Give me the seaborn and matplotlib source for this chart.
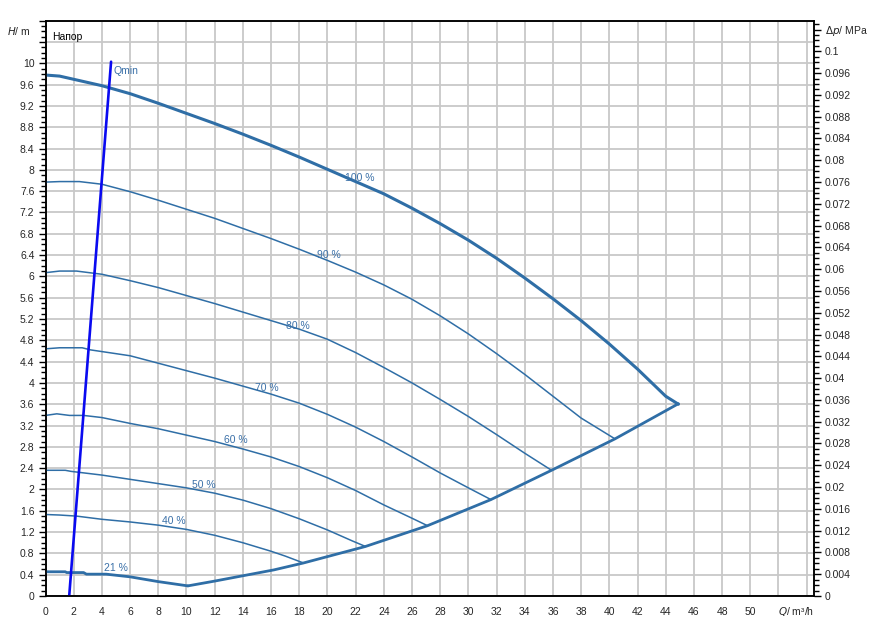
import numpy as np
import pandas as pd
import matplotlib
matplotlib.use("Agg")
import matplotlib.pyplot as plt
import seaborn as sns
from matplotlib.ticker import MultipleLocator, FuncFormatter

# pump curves, Q in m3/h, H in m
q_100 = [0, 1, 4, 6, 8, 10, 12, 14, 16, 18, 20, 22, 24, 26, 28, 30, 32, 34, 36, 38, 40, 42, 44, 44.9]
h_100 = [9.78, 9.76, 9.58, 9.43, 9.25, 9.06, 8.87, 8.67, 8.46, 8.24, 8.01, 7.78, 7.55, 7.28, 6.99, 6.68,
         6.34, 5.97, 5.58, 5.17, 4.73, 4.26, 3.75, 3.6]
q_90 = [0, 1, 2.4, 4, 6, 8, 10, 12, 14, 16, 18, 20, 22, 24, 26, 28, 30, 32, 34, 36, 38, 40.4]
h_90 = [7.77, 7.78, 7.78, 7.73, 7.59, 7.43, 7.26, 7.09, 6.90, 6.71, 6.51, 6.30, 6.08, 5.84, 5.57, 5.26,
        4.92, 4.55, 4.16, 3.75, 3.34, 2.95]
q_80 = [0, 1, 2.2, 4, 6, 8, 10, 12, 14, 16, 18, 20, 22, 24, 26, 28, 30, 32, 34, 35.9]
h_80 = [6.07, 6.1, 6.1, 6.04, 5.92, 5.79, 5.64, 5.49, 5.33, 5.17, 5.01, 4.82, 4.57, 4.29, 4.00, 3.69,
        3.37, 3.03, 2.68, 2.36]
q_70 = [0, 1, 2.6, 3.2, 6, 8, 10, 12, 14, 16, 18, 20, 22, 24, 26, 28, 30, 31.6]
h_70 = [4.64, 4.66, 4.66, 4.62, 4.51, 4.37, 4.23, 4.09, 3.94, 3.79, 3.62, 3.41, 3.17, 2.90, 2.61, 2.31,
        2.03, 1.81]
q_60 = [0, 0.8, 1.7, 2.7, 4, 6, 8, 10, 12, 14, 16, 18, 20, 22, 24, 26, 27.1]
h_60 = [3.39, 3.42, 3.39, 3.39, 3.35, 3.24, 3.14, 3.02, 2.90, 2.76, 2.61, 2.43, 2.22, 1.98, 1.71, 1.46, 1.32]
q_50 = [0, 1.4, 1.8, 4, 6, 8, 10, 12, 14, 16, 18, 20, 21.8, 22.7]
h_50 = [2.36, 2.36, 2.34, 2.27, 2.19, 2.11, 2.03, 1.93, 1.80, 1.64, 1.45, 1.24, 1.03, 0.93]
q_40 = [0, 1, 2.2, 4, 6, 8, 10, 12, 14, 15, 16, 17, 18.3]
h_40 = [1.53, 1.52, 1.50, 1.44, 1.39, 1.33, 1.25, 1.14, 1.0, 0.92, 0.84, 0.75, 0.62]
q_21 = [0, 1.4, 1.5, 2.7, 2.9, 4.3, 6, 8, 10.1]
h_21 = [0.455, 0.455, 0.44, 0.44, 0.41, 0.41, 0.36, 0.27, 0.19]
q_max = [10.1, 12, 14, 16.2, 18.3, 22.7, 27.1, 31.6, 35.9, 40.4, 44.9]
h_max = [0.19, 0.28, 0.38, 0.49, 0.62, 0.93, 1.32, 1.81, 2.36, 2.95, 3.61]
q_min = [1.68, 4.65]
h_min = [0, 10.03]

labels = ["100 %", "90 %", "80 %", "70 %", "60 %", "50 %", "40 %", "21 %"]
label_q = [22.3, 20.1, 17.9, 15.7, 13.5, 11.2, 9.1, 5.0]
label_h = [7.85, 6.40, 5.07, 3.90, 2.92, 2.08, 1.40, 0.52]

h_to_mpa = 0.00978
x_max, y_max = 54.5, 10.8

sns.set_style("white")
plt.rcParams['font.family'] = ['Liberation Sans', 'DejaVu Sans']

fig = plt.figure(figsize=(8.84, 6.41), dpi=100)
ax = fig.add_axes([0.0515, 0.0702, 0.9205 - 0.0515, 0.9677 - 0.0702])

blue = "#2f6ea6"
curves = [(q_100, h_100, 2.2), (q_90, h_90, 1.1), (q_80, h_80, 1.1), (q_70, h_70, 1.1),
          (q_60, h_60, 1.1), (q_50, h_50, 1.1), (q_40, h_40, 1.1), (q_21, h_21, 2.0),
          (q_max, h_max, 2.0)]
for q, h, lw in curves:
    df = pd.DataFrame({"Q": q, "H": h})
    sns.lineplot(data=df, x="Q", y="H", ax=ax, color=blue, linewidth=lw,
                 estimator=None, sort=False, zorder=3)

sns.lineplot(x=q_min, y=h_min, ax=ax, color="#0a0af0", linewidth=1.9,
             estimator=None, sort=False, zorder=4)

for lab, lq, lh in zip(labels, label_q, label_h):
    ax.text(lq, lh, lab, color="#3a70a8", fontsize=7.5, ha="center", va="center", zorder=5)
ax.text(4.8, 9.85, "Qmin", color="#3a70a8", fontsize=7.5, ha="left", va="center", zorder=5)
ax.text(0.45, 10.5, "Напор", color="black", fontsize=7.5, ha="left", va="center")

ax.set_xlim(0, x_max)
ax.set_ylim(0, y_max)
ax.xaxis.set_major_locator(MultipleLocator(2))
ax.xaxis.set_minor_locator(MultipleLocator(0.5))
ax.yaxis.set_major_locator(MultipleLocator(0.4))
ax.yaxis.set_minor_locator(MultipleLocator(0.1))
ax.xaxis.set_major_formatter(FuncFormatter(lambda v, p: f"{v:g}" if v <= 50.01 else ""))
ax.yaxis.set_major_formatter(FuncFormatter(lambda v, p: f"{round(v, 1):g}" if v <= 10.01 else ""))
ax.grid(True, which="major", color="#c8c8c8", linewidth=1.3, zorder=0)
ax.set_axisbelow(True)
ax.tick_params(which="major", direction="out", length=5, width=1, labelsize=7.5, color="black", pad=3)
ax.tick_params(which="minor", direction="out", length=3.5, width=1, color="black")
ax.set_xlabel("")
ax.set_ylabel("")
for s in ax.spines.values():
    s.set_color("black")
    s.set_linewidth(1.1)

ax2 = ax.twinx()
ax2.set_ylim(0, y_max * h_to_mpa)
ax2.yaxis.set_major_locator(MultipleLocator(0.004))
ax2.yaxis.set_minor_locator(MultipleLocator(0.001))
ax2.yaxis.set_major_formatter(FuncFormatter(lambda v, p: f"{round(v, 3):g}" if v <= 0.1001 else ""))
ax2.tick_params(which="major", direction="out", length=5, width=1, labelsize=7.5, color="black", pad=3)
ax2.tick_params(which="minor", direction="out", length=3.5, width=1, color="black")
for s in ax2.spines.values():
    s.set_color("black")
    s.set_linewidth(1.1)

fig.text(31 / 884, 1 - 31 / 641, "$H$/ m", fontsize=7.5, ha="right", va="center")
fig.text(825 / 884, 1 - 31 / 641, r"$\Delta p$/ MPa", fontsize=7.5, ha="left", va="center")
fig.text(778 / 884, 1 - 612 / 641, "$Q$/ m³/h", fontsize=7.5, ha="left", va="center")

fig.savefig("out.png", dpi=100, facecolor="white")
